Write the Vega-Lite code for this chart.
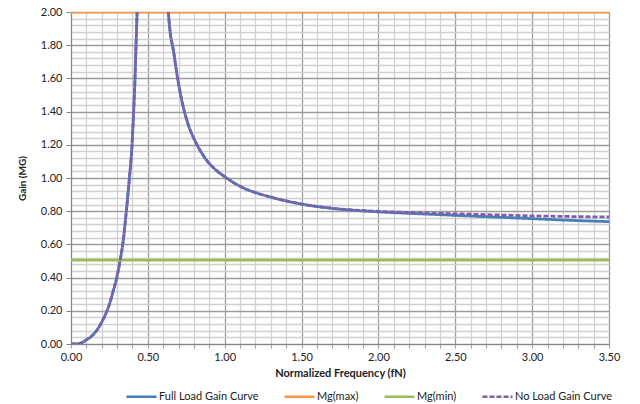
{
  "$schema": "https://vega.github.io/schema/vega-lite/v6.json",
  "autosize": {"type": "none"},
  "padding": {"left": 71, "top": 12, "right": 31, "bottom": 60},
  "width": 538,
  "height": 332,
  "background": "white",
  "config": {
    "view": {"stroke": null},
    "font": "Lato",
    "axis": {"labelFont": "Lato", "titleFont": "Lato", "labelColor": "#222222", "titleColor": "#222222"}
  },
  "data": {
    "values": [
      {"f": 0.00, "gain": 0.000, "series": "Full Load Gain Curve", "branch": "a"},
      {"f": 0.05, "gain": 0.002, "series": "Full Load Gain Curve", "branch": "a"},
      {"f": 0.08, "gain": 0.012, "series": "Full Load Gain Curve", "branch": "a"},
      {"f": 0.10, "gain": 0.025, "series": "Full Load Gain Curve", "branch": "a"},
      {"f": 0.125, "gain": 0.040, "series": "Full Load Gain Curve", "branch": "a"},
      {"f": 0.15, "gain": 0.062, "series": "Full Load Gain Curve", "branch": "a"},
      {"f": 0.175, "gain": 0.092, "series": "Full Load Gain Curve", "branch": "a"},
      {"f": 0.20, "gain": 0.132, "series": "Full Load Gain Curve", "branch": "a"},
      {"f": 0.225, "gain": 0.180, "series": "Full Load Gain Curve", "branch": "a"},
      {"f": 0.25, "gain": 0.240, "series": "Full Load Gain Curve", "branch": "a"},
      {"f": 0.275, "gain": 0.320, "series": "Full Load Gain Curve", "branch": "a"},
      {"f": 0.30, "gain": 0.410, "series": "Full Load Gain Curve", "branch": "a"},
      {"f": 0.32, "gain": 0.505, "series": "Full Load Gain Curve", "branch": "a"},
      {"f": 0.34, "gain": 0.625, "series": "Full Load Gain Curve", "branch": "a"},
      {"f": 0.36, "gain": 0.800, "series": "Full Load Gain Curve", "branch": "a"},
      {"f": 0.38, "gain": 1.000, "series": "Full Load Gain Curve", "branch": "a"},
      {"f": 0.395, "gain": 1.170, "series": "Full Load Gain Curve", "branch": "a"},
      {"f": 0.405, "gain": 1.350, "series": "Full Load Gain Curve", "branch": "a"},
      {"f": 0.416, "gain": 1.590, "series": "Full Load Gain Curve", "branch": "a"},
      {"f": 0.423, "gain": 1.800, "series": "Full Load Gain Curve", "branch": "a"},
      {"f": 0.430, "gain": 2.000, "series": "Full Load Gain Curve", "branch": "a"},
      {"f": 0.633, "gain": 2.000, "series": "Full Load Gain Curve", "branch": "b"},
      {"f": 0.645, "gain": 1.880, "series": "Full Load Gain Curve", "branch": "b"},
      {"f": 0.666, "gain": 1.770, "series": "Full Load Gain Curve", "branch": "b"},
      {"f": 0.69, "gain": 1.620, "series": "Full Load Gain Curve", "branch": "b"},
      {"f": 0.72, "gain": 1.470, "series": "Full Load Gain Curve", "branch": "b"},
      {"f": 0.76, "gain": 1.330, "series": "Full Load Gain Curve", "branch": "b"},
      {"f": 0.82, "gain": 1.200, "series": "Full Load Gain Curve", "branch": "b"},
      {"f": 0.88, "gain": 1.110, "series": "Full Load Gain Curve", "branch": "b"},
      {"f": 0.96, "gain": 1.035, "series": "Full Load Gain Curve", "branch": "b"},
      {"f": 1.00, "gain": 1.008, "series": "Full Load Gain Curve", "branch": "b"},
      {"f": 1.10, "gain": 0.950, "series": "Full Load Gain Curve", "branch": "b"},
      {"f": 1.20, "gain": 0.912, "series": "Full Load Gain Curve", "branch": "b"},
      {"f": 1.30, "gain": 0.885, "series": "Full Load Gain Curve", "branch": "b"},
      {"f": 1.50, "gain": 0.843, "series": "Full Load Gain Curve", "branch": "b"},
      {"f": 1.70, "gain": 0.817, "series": "Full Load Gain Curve", "branch": "b"},
      {"f": 2.00, "gain": 0.796, "series": "Full Load Gain Curve", "branch": "b"},
      {"f": 2.25, "gain": 0.785, "series": "Full Load Gain Curve", "branch": "b"},
      {"f": 2.50, "gain": 0.775, "series": "Full Load Gain Curve", "branch": "b"},
      {"f": 2.75, "gain": 0.765, "series": "Full Load Gain Curve", "branch": "b"},
      {"f": 3.00, "gain": 0.755, "series": "Full Load Gain Curve", "branch": "b"},
      {"f": 3.25, "gain": 0.745, "series": "Full Load Gain Curve", "branch": "b"},
      {"f": 3.50, "gain": 0.737, "series": "Full Load Gain Curve", "branch": "b"},
      {"f": 0.00, "gain": 2.000, "series": "Mg(max)", "branch": "a"},
      {"f": 3.50, "gain": 2.000, "series": "Mg(max)", "branch": "a"},
      {"f": 0.00, "gain": 0.505, "series": "Mg(min)", "branch": "a"},
      {"f": 3.50, "gain": 0.505, "series": "Mg(min)", "branch": "a"},
      {"f": 0.00, "gain": 0.000, "series": "No Load Gain Curve", "branch": "a"},
      {"f": 0.05, "gain": 0.002, "series": "No Load Gain Curve", "branch": "a"},
      {"f": 0.08, "gain": 0.012, "series": "No Load Gain Curve", "branch": "a"},
      {"f": 0.10, "gain": 0.025, "series": "No Load Gain Curve", "branch": "a"},
      {"f": 0.125, "gain": 0.040, "series": "No Load Gain Curve", "branch": "a"},
      {"f": 0.15, "gain": 0.062, "series": "No Load Gain Curve", "branch": "a"},
      {"f": 0.175, "gain": 0.092, "series": "No Load Gain Curve", "branch": "a"},
      {"f": 0.20, "gain": 0.132, "series": "No Load Gain Curve", "branch": "a"},
      {"f": 0.225, "gain": 0.180, "series": "No Load Gain Curve", "branch": "a"},
      {"f": 0.25, "gain": 0.240, "series": "No Load Gain Curve", "branch": "a"},
      {"f": 0.275, "gain": 0.320, "series": "No Load Gain Curve", "branch": "a"},
      {"f": 0.30, "gain": 0.410, "series": "No Load Gain Curve", "branch": "a"},
      {"f": 0.32, "gain": 0.505, "series": "No Load Gain Curve", "branch": "a"},
      {"f": 0.34, "gain": 0.625, "series": "No Load Gain Curve", "branch": "a"},
      {"f": 0.36, "gain": 0.800, "series": "No Load Gain Curve", "branch": "a"},
      {"f": 0.38, "gain": 1.000, "series": "No Load Gain Curve", "branch": "a"},
      {"f": 0.395, "gain": 1.170, "series": "No Load Gain Curve", "branch": "a"},
      {"f": 0.405, "gain": 1.350, "series": "No Load Gain Curve", "branch": "a"},
      {"f": 0.416, "gain": 1.590, "series": "No Load Gain Curve", "branch": "a"},
      {"f": 0.423, "gain": 1.800, "series": "No Load Gain Curve", "branch": "a"},
      {"f": 0.430, "gain": 2.000, "series": "No Load Gain Curve", "branch": "a"},
      {"f": 0.633, "gain": 2.000, "series": "No Load Gain Curve", "branch": "b"},
      {"f": 0.645, "gain": 1.880, "series": "No Load Gain Curve", "branch": "b"},
      {"f": 0.666, "gain": 1.770, "series": "No Load Gain Curve", "branch": "b"},
      {"f": 0.69, "gain": 1.620, "series": "No Load Gain Curve", "branch": "b"},
      {"f": 0.72, "gain": 1.470, "series": "No Load Gain Curve", "branch": "b"},
      {"f": 0.76, "gain": 1.330, "series": "No Load Gain Curve", "branch": "b"},
      {"f": 0.82, "gain": 1.200, "series": "No Load Gain Curve", "branch": "b"},
      {"f": 0.88, "gain": 1.110, "series": "No Load Gain Curve", "branch": "b"},
      {"f": 0.96, "gain": 1.035, "series": "No Load Gain Curve", "branch": "b"},
      {"f": 1.00, "gain": 1.008, "series": "No Load Gain Curve", "branch": "b"},
      {"f": 1.10, "gain": 0.950, "series": "No Load Gain Curve", "branch": "b"},
      {"f": 1.20, "gain": 0.912, "series": "No Load Gain Curve", "branch": "b"},
      {"f": 1.30, "gain": 0.885, "series": "No Load Gain Curve", "branch": "b"},
      {"f": 1.50, "gain": 0.843, "series": "No Load Gain Curve", "branch": "b"},
      {"f": 1.70, "gain": 0.818, "series": "No Load Gain Curve", "branch": "b"},
      {"f": 2.00, "gain": 0.799, "series": "No Load Gain Curve", "branch": "b"},
      {"f": 2.25, "gain": 0.791, "series": "No Load Gain Curve", "branch": "b"},
      {"f": 2.50, "gain": 0.784, "series": "No Load Gain Curve", "branch": "b"},
      {"f": 2.75, "gain": 0.778, "series": "No Load Gain Curve", "branch": "b"},
      {"f": 3.00, "gain": 0.772, "series": "No Load Gain Curve", "branch": "b"},
      {"f": 3.25, "gain": 0.768, "series": "No Load Gain Curve", "branch": "b"},
      {"f": 3.50, "gain": 0.765, "series": "No Load Gain Curve", "branch": "b"}
    ]
  },
  "mark": {"type": "line", "strokeWidth": 2.8, "clip": true, "interpolate": "monotone"},
  "encoding": {
    "x": {
      "field": "f",
      "type": "quantitative",
      "title": "Normalized Frequency (fN)",
      "scale": {"domain": [0, 3.5], "nice": false},
      "axis": {
        "values": [0, 0.1, 0.2, 0.3, 0.4, 0.5, 0.6, 0.7, 0.8, 0.9, 1, 1.1, 1.2, 1.3, 1.4, 1.5, 1.6, 1.7, 1.8, 1.9, 2, 2.1, 2.2, 2.3, 2.4, 2.5, 2.6, 2.7, 2.8, 2.9, 3, 3.1, 3.2, 3.3, 3.4, 3.5],
        "labelExpr": "round(datum.value * 10) % 5 === 0 ? format(datum.value, '.2f') : ''",
        "labelOverlap": false,
        "labelFontSize": 11,
        "labelPadding": 3,
        "labelFlush": false,
        "tickSize": 4,
        "tickColor": "#a0a0a0",
        "domainColor": "#868686",
        "grid": true,
        "gridColor": {"condition": {"test": "round(datum.value * 10) % 5 === 0", "value": "#9c9c9c"}, "value": "#d0d0d0"},
        "gridWidth": 1.3,
        "titleFontSize": 11,
        "titleFontWeight": "bold",
        "titlePadding": 5
      }
    },
    "y": {
      "field": "gain",
      "type": "quantitative",
      "title": "Gain (MG)",
      "scale": {"domain": [0, 2], "nice": false},
      "axis": {
        "values": [0, 0.04, 0.08, 0.12, 0.16, 0.2, 0.24, 0.28, 0.32, 0.36, 0.4, 0.44, 0.48, 0.52, 0.56, 0.6, 0.64, 0.68, 0.72, 0.76, 0.8, 0.84, 0.88, 0.92, 0.96, 1, 1.04, 1.08, 1.12, 1.16, 1.2, 1.24, 1.28, 1.32, 1.36, 1.4, 1.44, 1.48, 1.52, 1.56, 1.6, 1.64, 1.68, 1.72, 1.76, 1.8, 1.84, 1.88, 1.92, 1.96, 2],
        "labelExpr": "round(datum.value * 100) % 20 === 0 ? format(datum.value, '.2f') : ''",
        "labelOverlap": false,
        "labelFontSize": 11,
        "labelPadding": 4,
        "labelFlush": false,
        "tickSize": 5,
        "tickColor": {"condition": {"test": "round(datum.value * 100) % 20 === 0", "value": "#868686"}, "value": "transparent"},
        "domainColor": "#868686",
        "grid": true,
        "gridColor": {"condition": {"test": "round(datum.value * 100) % 20 === 0", "value": "#9c9c9c"}, "value": "#d0d0d0"},
        "gridWidth": 1.3,
        "titleFontSize": 10,
        "titleFontWeight": "bold",
        "titleX": -44
      }
    },
    "color": {
      "field": "series",
      "type": "nominal",
      "title": null,
      "scale": {
        "domain": ["Full Load Gain Curve", "Mg(max)", "Mg(min)", "No Load Gain Curve"],
        "range": ["#4a7ebb", "#f79646", "#9bbb59", "#7e60a8"]
      },
      "legend": {
        "orient": "none",
        "legendX": 54,
        "legendY": 368,
        "direction": "horizontal",
        "columns": 4,
        "symbolType": "stroke",
        "symbolSize": 900,
        "symbolStrokeWidth": 2.5,
        "labelFont": "Lato",
        "labelFontSize": 11,
        "labelColor": "#222222",
        "labelOffset": 1,
        "columnPadding": 20
      }
    },
    "strokeDash": {
      "field": "series",
      "type": "nominal",
      "title": null,
      "scale": {
        "domain": ["Full Load Gain Curve", "Mg(max)", "Mg(min)", "No Load Gain Curve"],
        "range": [[1, 0], [1, 0], [1, 0], [5, 2]]
      }
    },
    "detail": {"field": "branch"},
    "order": {"field": "f"}
  }
}
